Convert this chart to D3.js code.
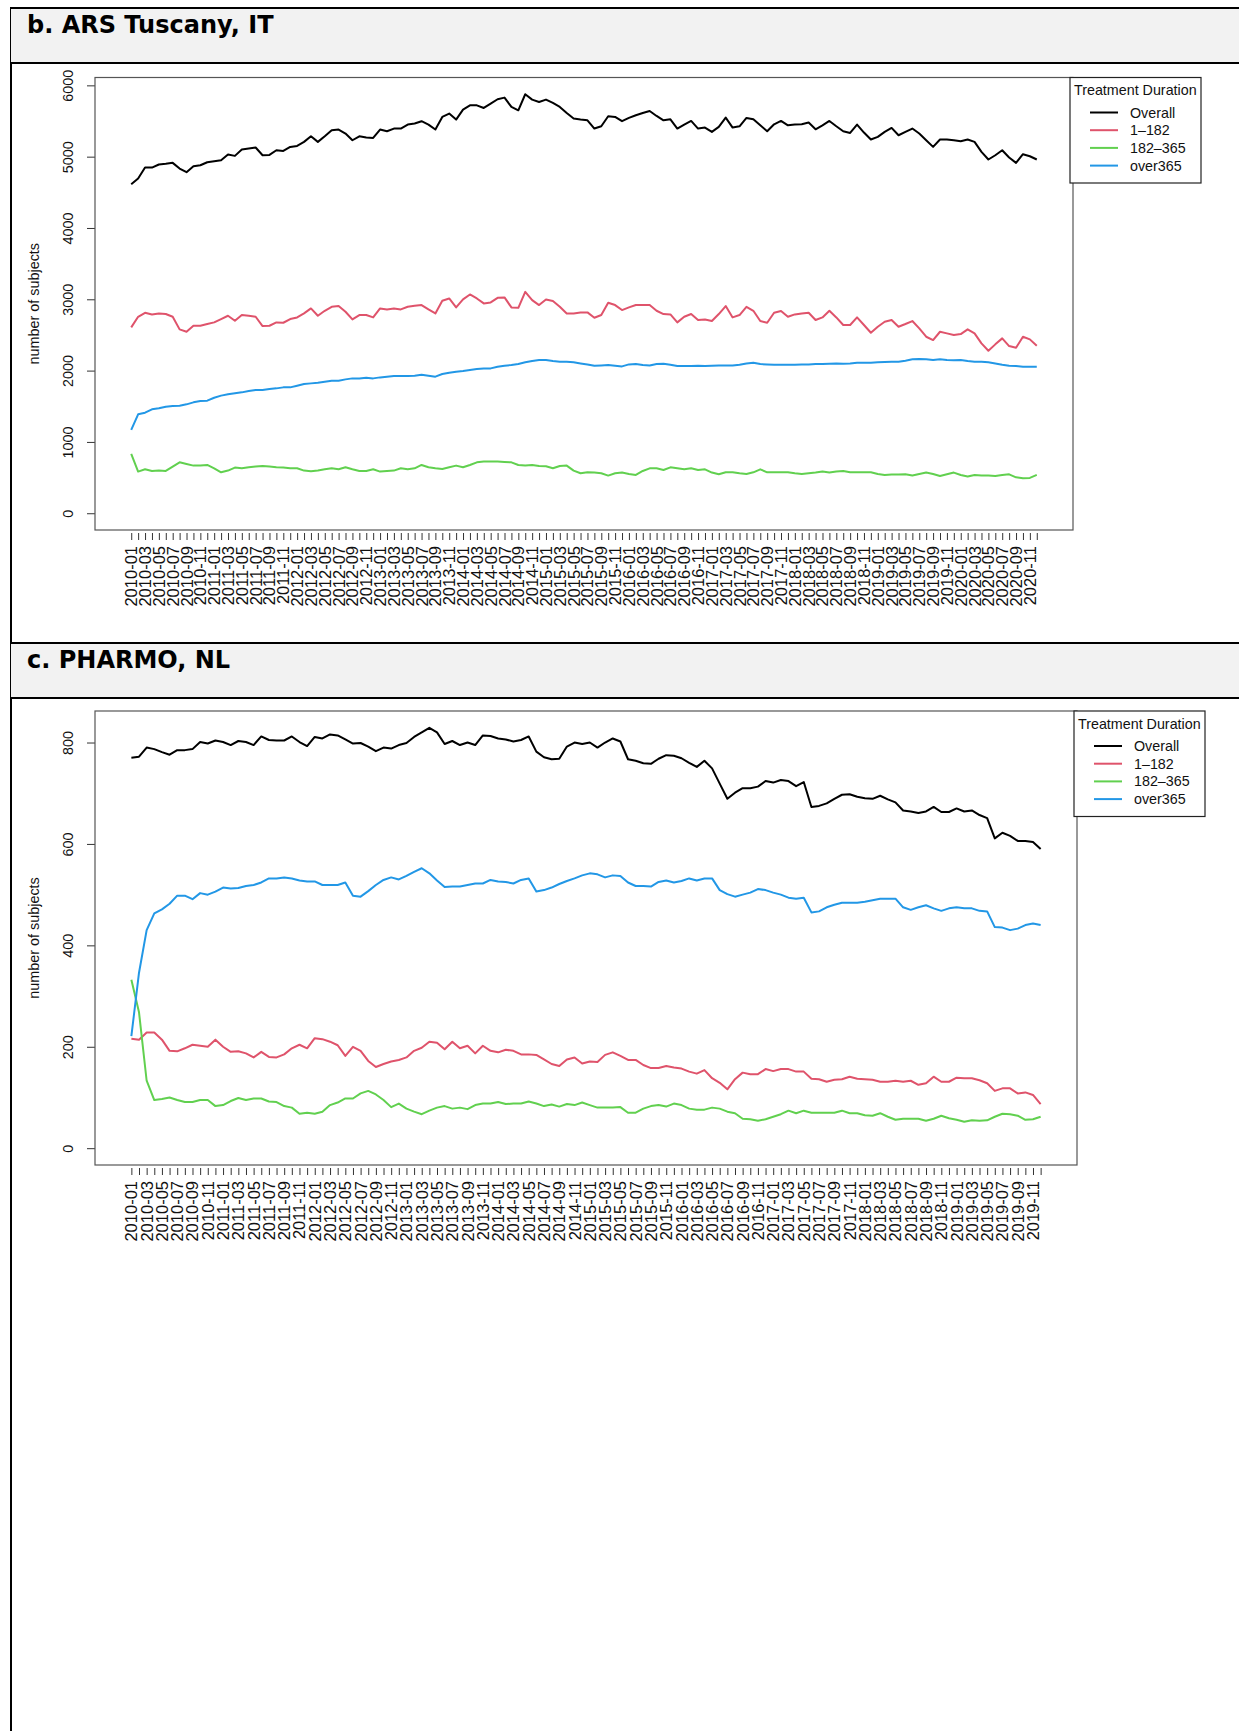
<!DOCTYPE html>
<html>
<head>
<meta charset="utf-8">
<script src="https://cdn.jsdelivr.net/npm/d3@7"></script>
<style>
  body { margin: 0; background: #fff; }
  svg text { font-family: "Liberation Sans", Arial, sans-serif; }
</style>
</head>
<body>
<svg id="fig" width="1239" height="1731"></svg>
<script>
// month labels for both panels
const arsMonths = d3.timeMonth.range(new Date(2010, 0, 1), new Date(2021, 0, 1)).map(d3.timeFormat("%Y-%m"));
const pharmoMonths = d3.timeMonth.range(new Date(2010, 0, 1), new Date(2020, 0, 1)).map(d3.timeFormat("%Y-%m"));

const seriesNames = ["Overall", "1\u2013182", "182\u2013365", "over365"];
const seriesColors = ["#000000", "#DF536B", "#61D04F", "#2297E6"];

// b. ARS Tuscany, IT  (2010-01 .. 2020-12)
const arsOverall = [4614,4693,4847,4847,4890,4900,4913,4833,4782,4866,4880,4922,4936,4950,5030,5011,5100,5114,5128,5020,
  5025,5090,5081,5137,5151,5207,5286,5207,5286,5370,5380,5324,5230,5286,5268,5263,5380,5356,5394,5394,
  5450,5464,5497,5450,5380,5557,5604,5520,5660,5720,5720,5683,5744,5805,5828,5697,5650,5875,5800,5767,
  5800,5753,5697,5613,5534,5520,5510,5394,5426,5567,5557,5497,5543,5581,5613,5641,5571,5510,5524,5394,
  5450,5501,5394,5408,5347,5417,5548,5408,5426,5543,5524,5440,5356,5454,5501,5440,5450,5454,5478,5384,
  5440,5501,5426,5356,5333,5450,5338,5240,5277,5347,5403,5300,5347,5394,5324,5230,5137,5240,5240,5230,
  5216,5240,5207,5067,4960,5020,5090,4988,4913,5034,5006,4960];
const ars1to182 = [2606,2755,2811,2788,2802,2793,2755,2578,2545,2629,2629,2653,2676,2723,2769,2699,2779,2769,2755,2625,
  2629,2676,2671,2723,2746,2802,2872,2769,2839,2895,2905,2825,2718,2779,2779,2746,2872,2858,2872,2858,
  2895,2909,2919,2858,2802,2979,3012,2886,2998,3068,3012,2942,2956,3021,3026,2886,2881,3105,2989,2919,
  2998,2975,2895,2802,2802,2816,2816,2741,2779,2951,2919,2849,2886,2919,2919,2919,2839,2793,2788,2676,
  2755,2793,2709,2718,2695,2793,2905,2746,2779,2895,2839,2695,2671,2811,2835,2755,2788,2802,2811,2709,
  2746,2839,2746,2639,2639,2746,2639,2531,2615,2685,2709,2615,2653,2695,2592,2475,2428,2545,2522,2498,
  2512,2578,2522,2382,2279,2368,2452,2344,2321,2475,2438,2349];
const ars182to365 = [831,584,616,593,598,593,654,714,691,668,668,677,630,574,598,640,630,644,654,663,
  654,644,640,630,630,598,588,598,616,630,616,644,616,593,593,616,584,593,598,630,
  616,630,677,644,630,621,644,668,644,677,714,724,724,724,719,714,677,668,677,663,
  658,630,663,668,598,560,574,570,560,528,560,570,551,537,593,630,630,607,644,630,
  616,630,607,616,570,546,574,574,560,551,574,616,574,574,574,574,560,551,560,570,
  584,570,584,593,574,574,574,574,551,537,542,542,546,528,551,570,551,523,546,570,
  537,514,537,528,528,523,537,546,504,490,495,537];
const arsOver365 = [1168,1387,1410,1457,1471,1494,1504,1508,1527,1555,1574,1578,1620,1649,1667,1681,1695,1714,1728,1728,
  1742,1751,1765,1765,1789,1812,1821,1831,1845,1859,1859,1877,1891,1891,1901,1891,1905,1915,1924,1924,
  1924,1929,1943,1929,1915,1952,1971,1985,1994,2008,2022,2031,2031,2055,2069,2078,2092,2116,2134,2148,
  2148,2134,2125,2125,2116,2101,2087,2069,2073,2078,2069,2059,2087,2092,2078,2073,2092,2097,2083,2064,
  2064,2064,2069,2064,2069,2073,2073,2073,2083,2101,2111,2092,2087,2083,2083,2083,2083,2087,2087,2092,
  2092,2097,2101,2097,2101,2111,2111,2111,2116,2120,2125,2125,2139,2158,2162,2158,2148,2158,2148,2144,
  2148,2134,2125,2125,2116,2101,2083,2069,2064,2055,2055,2055];
const arsYTicks = [0, 1000, 2000, 3000, 4000, 5000, 6000];

// c. PHARMO, NL  (2010-01 .. 2019-12)
const pharmoOverall = [770,772,790,787,781,776,785,785,787,801,798,804,801,795,803,801,795,812,805,804,
  804,812,801,793,811,808,816,814,806,798,799,792,783,790,788,795,799,811,820,829,
  820,797,803,795,800,795,814,813,808,806,802,805,812,782,771,767,768,792,800,797,
  800,790,800,808,802,767,764,759,758,768,775,774,769,760,752,764,749,719,689,701,
  710,710,713,724,721,726,724,714,722,673,675,680,689,697,698,693,690,689,695,688,
  682,666,664,661,664,673,663,663,670,664,666,657,651,611,622,616,606,606,604,590];
const pharmo1to182 = [216,214,228,228,214,192,191,197,204,202,200,214,200,190,191,187,179,190,180,179,
  185,197,204,197,217,215,210,203,182,200,192,172,160,166,171,174,179,192,198,210,
  208,195,210,197,202,187,202,192,189,194,192,185,185,184,175,166,162,175,179,167,
  171,170,184,189,182,174,174,164,158,158,162,159,157,151,147,154,138,129,116,136,
  149,146,146,156,152,156,156,151,151,137,136,131,135,136,141,137,136,135,131,131,
  133,131,133,125,128,141,131,131,139,138,138,134,128,113,118,118,108,110,105,87];
const pharmo182to365 = [332,268,133,95,97,100,95,91,91,95,95,83,85,93,99,95,98,98,92,91,
  83,80,68,70,68,72,85,90,98,98,108,113,106,95,81,88,78,72,67,74,
  80,83,78,80,77,85,88,88,91,87,88,88,92,88,83,86,82,87,85,90,
  85,80,80,80,81,70,70,78,83,85,82,88,85,78,76,76,80,78,72,69,
  58,57,54,57,62,67,74,69,74,70,70,70,70,74,69,69,65,64,69,62,
  56,58,58,58,54,58,64,59,56,52,55,54,55,62,68,67,64,56,57,62];
const pharmoOver365 = [221,346,430,463,471,482,498,498,491,503,500,506,514,512,513,517,519,524,532,532,
  534,532,528,526,526,519,519,519,524,498,496,507,519,529,534,530,537,545,552,542,
  528,515,516,516,519,522,522,529,526,525,522,529,532,506,509,514,521,527,532,538,
  542,540,534,538,537,524,517,517,516,525,528,524,527,532,528,532,532,509,501,496,
  500,504,511,509,504,500,494,492,494,465,467,475,480,484,484,484,486,489,492,492,
  492,475,470,475,479,473,468,473,475,473,473,468,467,436,435,430,433,440,443,440];
const pharmoYTicks = [0, 200, 400, 600, 800];

const svg = d3.select("#fig");
const W = 1239;

// left border of the table
svg.append("line").attr("x1", 11).attr("x2", 11).attr("y1", 7).attr("y2", 1731)
  .attr("stroke", "#000").attr("stroke-width", 2);

function drawHeader(y0, y1, title) {
  svg.append("rect").attr("x", 11).attr("y", y0).attr("width", W - 11).attr("height", y1 - y0)
    .attr("fill", "#f2f2f2");
  svg.append("line").attr("x1", 10).attr("x2", W).attr("y1", y0).attr("y2", y0)
    .attr("stroke", "#000").attr("stroke-width", 2);
  svg.append("line").attr("x1", 10).attr("x2", W).attr("y1", y1).attr("y2", y1)
    .attr("stroke", "#000").attr("stroke-width", 2);
  svg.append("text").attr("x", 27).attr("y", y0 + 25)
    .style("font-family", "'DejaVu Sans', Verdana, sans-serif")
    .style("font-weight", "bold").style("font-size", "24px")
    .text(title);
}

function drawPanel(p) {
  const n = p.months.length;
  const pad = 0.04 * (n - 1);
  const x = d3.scaleLinear().domain([1 - pad, n + pad]).range([p.left, p.right]);
  const ymax = d3.max(p.series, s => d3.max(s));
  const y = d3.scaleLinear().domain([-0.04 * ymax, 1.04 * ymax]).range([p.bottom, p.top]);

  const g = svg.append("g");

  // y axis
  const yAxis = g.append("g").attr("transform", `translate(${p.left},0)`)
    .call(d3.axisLeft(y).tickValues(p.yTicks).tickSize(8).tickFormat(d3.format("d")));
  yAxis.select(".domain").remove();
  yAxis.selectAll(".tick line").attr("stroke", "#333");
  yAxis.selectAll(".tick text")
    .attr("transform", "rotate(-90)")
    .attr("x", 0).attr("y", -22).attr("dy", 0)
    .attr("text-anchor", "middle")
    .style("font-size", "14.4px").attr("fill", "#111");

  // x axis: a tick every month, label every other month
  const xAxis = g.append("g").attr("transform", `translate(0,${p.bottom + 3})`)
    .call(d3.axisBottom(x).tickValues(d3.range(1, n + 1)).tickSize(7)
      .tickFormat(d => (d % 2 === 1 ? p.months[d - 1] : "")));
  xAxis.select(".domain").remove();
  xAxis.selectAll(".tick line").attr("stroke", "#333");
  xAxis.selectAll(".tick text")
    .attr("transform", "rotate(-90)")
    .attr("x", -13).attr("y", 5.5).attr("dy", 0)
    .attr("text-anchor", "end")
    .style("font-size", "16.5px").attr("fill", "#111");

  // axis title
  g.append("text")
    .attr("transform", `translate(39,${(p.top + p.bottom) / 2}) rotate(-90)`)
    .attr("text-anchor", "middle")
    .style("font-size", "14.4px").attr("fill", "#111")
    .text("number of subjects");

  // series
  const line = d3.line().x((d, i) => x(i + 1)).y(d => y(d));
  g.selectAll("path.series")
    .data(p.series)
    .join("path")
    .attr("class", "series")
    .attr("d", line)
    .attr("fill", "none")
    .attr("stroke", (d, i) => seriesColors[i])
    .attr("stroke-width", 2)
    .attr("stroke-linejoin", "round");

  // plot box
  g.append("rect").attr("x", p.left).attr("y", p.top)
    .attr("width", p.right - p.left).attr("height", p.bottom - p.top)
    .attr("fill", "none").attr("stroke", "#555").attr("stroke-width", 1.2);

  // legend
  const lg = g.append("g").attr("transform", `translate(${p.legendX},${p.top})`);
  lg.append("rect").attr("x", 0).attr("y", 0).attr("width", 131).attr("height", 105.5)
    .attr("fill", "#fff").attr("stroke", "#222").attr("stroke-width", 1.2);
  lg.append("text").attr("x", 4).attr("y", 17.5)
    .style("font-size", "14.3px").attr("fill", "#111")
    .text("Treatment Duration");
  const items = lg.selectAll("g.item").data(seriesNames).join("g")
    .attr("class", "item")
    .attr("transform", (d, i) => `translate(0,${35 + i * 17.7})`);
  items.append("line").attr("x1", 20).attr("x2", 48).attr("y1", 0).attr("y2", 0)
    .attr("stroke", (d, i) => seriesColors[i]).attr("stroke-width", 2);
  items.append("text").attr("x", 60).attr("y", 5)
    .style("font-size", "14.3px").attr("fill", "#111")
    .text(d => d);
}

drawHeader(8, 63, "b. ARS Tuscany, IT");
drawPanel({
  months: arsMonths,
  series: [arsOverall, ars1to182, ars182to365, arsOver365],
  yTicks: arsYTicks,
  left: 95, right: 1073, top: 77.5, bottom: 530, legendX: 1070
});

drawHeader(643, 698, "c. PHARMO, NL");
drawPanel({
  months: pharmoMonths,
  series: [pharmoOverall, pharmo1to182, pharmo182to365, pharmoOver365],
  yTicks: pharmoYTicks,
  left: 95, right: 1077, top: 711, bottom: 1165, legendX: 1074
});
</script>
</body>
</html>
